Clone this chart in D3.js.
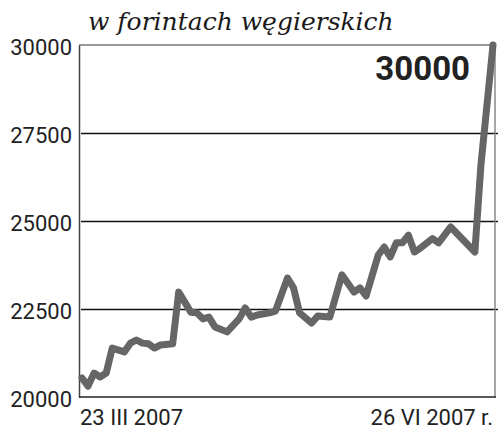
<!DOCTYPE html>
<html>
<head>
<meta charset="utf-8">
<script src="https://d3js.org/d3.v7.min.js"></script>
<style>
body { margin: 0; background: #fff; }
</style>
</head>
<body>
<script>
var w = 500;
var h = 447;

// sesje od 23 III 2007 (0) do 26 VI 2007 (68)
var days   = [0, 1, 2, 3, 4, 5, 7, 8, 9, 10, 11, 12, 13, 15, 16, 18, 19, 20, 21, 22,
              24, 26, 27, 28, 29, 31, 32, 34, 35, 36, 38, 39, 41, 43, 45, 46, 47, 49, 50, 51,
              52, 53, 54, 55, 56, 58, 59, 61, 65, 66, 68];
var values = [20540, 20310, 20680, 20570, 20680, 21390, 21280, 21530, 21620, 21530,
              21510, 21390, 21480, 21510, 22980, 22410, 22390, 22220, 22270, 21990,
              21850, 22220, 22530, 22270, 22330, 22390, 22440, 23380, 23100, 22390,
              22100, 22300, 22270, 23470, 22980, 23100, 22870, 24030, 24260, 23980,
              24380, 24380, 24600, 24120, 24230, 24500, 24380, 24830, 24120, 26590, 30000];

var yTicks = [20000, 22500, 25000, 27500, 30000];
var xLabels = ["23 III 2007", "26 VI 2007 r."];
var title = "w forintach węgierskich";
var lastLabel = "30000";

var svg = d3.select("body")
            .append("svg")
            .attr("width", w)
            .attr("height", h);

var x = d3.scaleLinear().domain([0, 68]).range([82, 493]);
var y = d3.scaleLinear().domain([20000, 30000]).range([397, 45]);

// tytul
svg.append("text")
    .attr("x", 88)
    .attr("y", 30)
    .attr("font-family", "DejaVu Serif")
    .attr("font-style", "italic")
    .attr("font-size", "25px")
    .attr("fill", "#1a1a1a")
    .text(title);

// linie siatki
svg.selectAll("line.grid")
    .data(yTicks.filter(function(d) { return d > 20000 && d < 30000; }))
    .enter().append("line")
        .attr("class", "grid")
        .attr("x1", 81)
        .attr("x2", 498)
        .attr("y1", function(d) { return Math.round(y(d)) + 0.5; })
        .attr("y2", function(d) { return Math.round(y(d)) + 0.5; })
        .attr("stroke", "#111")
        .attr("stroke-width", 1.3);

// ramka
svg.append("line")
    .attr("x1", 79).attr("x2", 495)
    .attr("y1", y(30000)).attr("y2", y(30000))
    .attr("stroke", "#777").attr("stroke-width", 1.5);
svg.append("line")
    .attr("x1", 495).attr("x2", 495)
    .attr("y1", y(30000)).attr("y2", y(20000))
    .attr("stroke", "#888").attr("stroke-width", 1.5);

// os Y
var yAxis = d3.axisLeft(y)
    .tickValues(yTicks)
    .tickFormat(d3.format("d"))
    .tickSize(0)
    .tickPadding(7);
var gy = svg.append("g")
    .attr("transform", "translate(79,0)")
    .call(yAxis);
gy.select(".domain").attr("stroke", "#444").attr("stroke-width", 1.5);
gy.selectAll("text")
    .attr("font-family", "Roboto")
    .attr("font-size", "22px")
    .attr("fill", "#222")
    .attr("dy", "0.42em");

// os X
svg.append("line")
    .attr("x1", 79).attr("x2", 496)
    .attr("y1", y(20000)).attr("y2", y(20000))
    .attr("stroke", "#222").attr("stroke-width", 1.6);

svg.selectAll("text.xlab")
    .data(xLabels)
    .enter().append("text")
        .attr("class", "xlab")
        .attr("x", function(d, i) { return i == 0 ? 80 : 493; })
        .attr("y", 425)
        .attr("text-anchor", function(d, i) { return i == 0 ? "start" : "end"; })
        .attr("font-family", "Roboto")
        .attr("font-size", "22px")
        .attr("fill", "#222")
        .text(function(d) { return d; });

// kurs
var line = d3.line()
    .x(function(d, i) { return x(days[i]); })
    .y(function(d) { return y(d); });

svg.append("path")
    .datum(values)
    .attr("d", line)
    .attr("fill", "none")
    .attr("stroke", "#666")
    .attr("stroke-width", 7)
    .attr("stroke-linejoin", "round")
    .attr("stroke-linecap", "round");

svg.append("text")
    .attr("x", 470)
    .attr("y", 80)
    .attr("text-anchor", "end")
    .attr("font-family", "Roboto")
    .attr("font-weight", "bold")
    .attr("font-size", "33px")
    .attr("fill", "#222")
    .text(lastLabel);
</script>
</body>
</html>
